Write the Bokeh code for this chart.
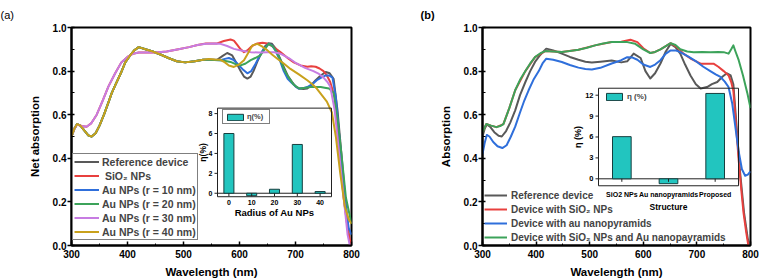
import math
from bokeh.plotting import figure
from bokeh.models import (Range1d, Legend, LegendItem, FixedTicker, Title,
                          PrintfTickFormatter)
from bokeh.layouts import row
from bokeh.embed import file_html
from bokeh.resources import INLINE
from bokeh.core.properties import value

FONT = "Liberation Sans"

# ---------------- axis ticks ----------------
X_TICKS = [300, 400, 500, 600, 700, 800]
X_MINOR = [350, 450, 550, 650, 750]
Y_TICKS = [0.0, 0.2, 0.4, 0.6, 0.8, 1.0]
Y_MINOR = [0.1, 0.3, 0.5, 0.7, 0.9]

# ---------------- panel (a) spectra ----------------
A_EARLY_REF_WL = [300, 305, 310, 316, 322, 330, 336, 343, 350, 358, 365, 372, 379, 388, 396,
                  404, 412, 420, 432, 445, 460, 473, 488, 503, 520, 535]
A_EARLY_REF = [0.50, 0.535, 0.557, 0.55, 0.53, 0.505, 0.50, 0.515, 0.55, 0.60, 0.65, 0.70, 0.74,
               0.79, 0.84, 0.87, 0.895, 0.91, 0.90, 0.89, 0.875, 0.86, 0.845, 0.84, 0.845, 0.852]
A_EARLY_SIO2_WL = [300, 305, 310, 318, 327, 335, 345, 355, 366, 378, 389, 400, 410, 420, 435,
                   450, 470, 491, 510, 525]
A_EARLY_SIO2 = [0.50, 0.535, 0.555, 0.548, 0.545, 0.56, 0.60, 0.66, 0.73, 0.79, 0.84, 0.865,
                0.88, 0.885, 0.885, 0.885, 0.89, 0.90, 0.91, 0.92]

A_REF_WL = [545, 560, 570, 578, 587, 595, 602, 608, 614, 620, 625, 632, 640, 646, 652, 658, 664,
            672, 679, 686, 694, 700, 706, 714, 721, 728, 736, 745, 754, 761, 768, 775, 782, 790,
            796, 800]
A_REF = [0.852, 0.852, 0.87, 0.883, 0.872, 0.835, 0.80, 0.775, 0.766, 0.775, 0.80, 0.845, 0.887,
         0.915, 0.928, 0.925, 0.905, 0.86, 0.819, 0.78, 0.75, 0.73, 0.72, 0.718, 0.72, 0.735,
         0.758, 0.78, 0.796, 0.79, 0.765, 0.62, 0.42, 0.18, 0.03, 0.0]

A_SIO2_WL = [540, 560, 572, 584, 590, 596, 602, 608, 614, 620, 626, 632, 641, 650, 661, 673, 685,
             697, 709, 721, 728, 736, 743, 750, 756, 762, 770, 778, 786, 794, 800]
A_SIO2 = [0.927, 0.927, 0.938, 0.945, 0.94, 0.92, 0.90, 0.887, 0.895, 0.91, 0.92, 0.927, 0.93,
          0.927, 0.91, 0.887, 0.862, 0.84, 0.826, 0.82, 0.822, 0.82, 0.812, 0.80, 0.78, 0.75,
          0.68, 0.45, 0.22, 0.06, 0.0]

A_AU10_WL = [545, 566, 574, 581, 589, 596, 605, 614, 621, 629, 636, 643, 652, 658, 664, 672, 679,
             686, 694, 700, 706, 714, 721, 730, 738, 746, 754, 760, 766, 772, 780, 788, 795, 800]
A_AU10 = [0.852, 0.85, 0.856, 0.86, 0.852, 0.835, 0.81, 0.79, 0.80, 0.835, 0.87, 0.90, 0.925,
          0.918, 0.895, 0.85, 0.80, 0.765, 0.744, 0.73, 0.72, 0.722, 0.727, 0.74, 0.758, 0.77,
          0.78, 0.78, 0.77, 0.68, 0.45, 0.22, 0.08, 0.05]

A_AU20_WL = [545, 566, 575, 584, 593, 602, 611, 620, 628, 637, 645, 652, 659, 666, 674, 681, 688,
             696, 702, 708, 718, 727, 736, 745, 752, 760, 768, 775, 782, 790, 800]
A_AU20 = [0.852, 0.85, 0.846, 0.842, 0.832, 0.826, 0.835, 0.85, 0.86, 0.872, 0.90, 0.925, 0.915,
          0.89, 0.845, 0.80, 0.77, 0.74, 0.728, 0.72, 0.724, 0.727, 0.727, 0.727, 0.724, 0.72,
          0.70, 0.58, 0.42, 0.22, 0.10]

A_AU30_WL = [540, 555, 566, 578, 590, 605, 620, 635, 650, 662, 673, 688, 702, 717, 732, 742, 750,
             757, 762, 770, 778, 786, 793, 797]
A_AU30 = [0.925, 0.927, 0.925, 0.915, 0.902, 0.893, 0.887, 0.885, 0.887, 0.886, 0.88, 0.86,
          0.835, 0.815, 0.80, 0.787, 0.77, 0.75, 0.73, 0.62, 0.42, 0.22, 0.05, 0.0]

A_AU40_WL = [545, 556, 566, 574, 581, 590, 599, 608, 616, 623, 632, 641, 650, 658, 667, 679, 691,
             706, 721, 730, 738, 747, 756, 765, 772, 780, 788, 795, 800]
A_AU40 = [0.855, 0.853, 0.852, 0.84, 0.826, 0.819, 0.83, 0.85, 0.885, 0.918, 0.925, 0.912, 0.895,
          0.876, 0.858, 0.835, 0.81, 0.785, 0.758, 0.74, 0.72, 0.69, 0.66, 0.61, 0.50, 0.33,
          0.18, 0.12, 0.10]

A_LABELS = ["Reference device", " SiO\u2082 NPs", "Au NPs (r = 10 nm)", "Au NPs (r = 20 nm)",
            "Au NPs (r = 30 nm)", "Au NPs (r = 40 nm)"]

# ---------------- panel (a) inset ----------------
RADIUS = [0, 10, 20, 30, 40]
RADIUS_LABELS = ["0", "10", "20", "30", "40"]
ETA_A = [6.0, -0.25, 0.4, 4.9, 0.17]
ETA_A_TICKS = [0, 2, 4, 6, 8]

# ---------------- panel (b) spectra ----------------
B_REF_WL = [300, 304, 308, 314, 322, 330, 336, 344, 352, 361, 370, 380, 389, 398, 408, 419, 432,
            448, 463, 479, 492, 504, 520, 541, 559, 570, 582, 595, 604, 613, 622, 632, 642, 651,
            660, 669, 678, 688, 698, 707, 719, 728, 738, 748, 756, 763, 768, 774, 780, 788, 795,
            800]
B_REF = [0.50, 0.535, 0.555, 0.545, 0.52, 0.503, 0.50, 0.525, 0.565, 0.62, 0.69, 0.75, 0.80,
         0.842, 0.875, 0.903, 0.895, 0.88, 0.865, 0.852, 0.843, 0.839, 0.843, 0.849, 0.84, 0.845,
         0.88, 0.86, 0.80, 0.766, 0.79, 0.835, 0.89, 0.925, 0.91, 0.88, 0.83, 0.78, 0.74, 0.72,
         0.727, 0.74, 0.75, 0.775, 0.79, 0.78, 0.74, 0.55, 0.35, 0.15, 0.03, 0.0]

B_SIO2_WL = [300, 307, 316, 326, 339, 350, 361, 380, 398, 417, 448, 479, 510, 541, 559, 576, 589,
             600, 613, 622, 632, 642, 651, 663, 675, 690, 707, 720, 731, 740, 750, 759, 764, 768,
             773, 778, 783, 787, 792, 796]
B_SIO2 = [0.52, 0.557, 0.55, 0.543, 0.557, 0.63, 0.712, 0.80, 0.864, 0.892, 0.888, 0.898, 0.918,
          0.933, 0.935, 0.944, 0.933, 0.905, 0.883, 0.888, 0.90, 0.915, 0.928, 0.91, 0.88, 0.855,
          0.834, 0.834, 0.834, 0.82, 0.80, 0.78, 0.75, 0.71, 0.55, 0.39, 0.25, 0.15, 0.06, 0.0]

B_AU_WL = [300, 304, 308, 313, 320, 328, 337, 345, 353, 361, 370, 378, 386, 395, 405, 412, 419,
           432, 448, 463, 479, 492, 504, 520, 541, 559, 570, 580, 589, 600, 613, 622, 632, 642,
           651, 660, 669, 685, 700, 712, 725, 735, 744, 752, 759, 766, 772, 778, 784, 790, 795,
           800]
B_AU = [0.42, 0.47, 0.507, 0.50, 0.475, 0.455, 0.447, 0.46, 0.50, 0.545, 0.61, 0.665, 0.712, 0.76,
        0.80, 0.835, 0.857, 0.852, 0.842, 0.828, 0.816, 0.81, 0.807, 0.815, 0.835, 0.85, 0.864,
        0.862, 0.852, 0.83, 0.819, 0.83, 0.85, 0.88, 0.895, 0.895, 0.887, 0.865, 0.842, 0.82,
        0.80, 0.785, 0.773, 0.752, 0.727, 0.65, 0.54, 0.43, 0.35, 0.32, 0.325, 0.34]

B_BOTH_WL = [300, 307, 316, 326, 333, 339, 350, 361, 370, 380, 389, 398, 408, 417, 432, 448, 463,
             479, 495, 510, 525, 541, 559, 570, 585, 600, 613, 622, 632, 642, 651, 660, 669, 682,
             694, 710, 725, 740, 750, 759, 764, 768, 772, 778, 786, 794, 800]
B_BOTH = [0.52, 0.557, 0.55, 0.543, 0.548, 0.557, 0.63, 0.712, 0.76, 0.80, 0.835, 0.864, 0.882,
          0.892, 0.89, 0.888, 0.892, 0.898, 0.907, 0.918, 0.927, 0.933, 0.933, 0.933, 0.925, 0.90,
          0.883, 0.888, 0.90, 0.915, 0.928, 0.92, 0.90, 0.89, 0.887, 0.888, 0.887, 0.888, 0.887,
          0.88, 0.90, 0.918, 0.89, 0.85, 0.78, 0.70, 0.63]

B_LABELS = ["Reference device", "Device with SiO\u2082 NPs", "Device with au nanopyramids",
            "Device with SiO\u2082 NPs and Au nanopayramids"]

# ---------------- panel (b) inset ----------------
STRUCT = ["SiO2 NPs", "Au nanopyramids", "Proposed"]
ETA_B = [6.05, -0.7, 12.25]
ETA_B_TICKS = [0, 3, 6, 9, 12]

# ---------------- colours ----------------
GRAY = "#595959"
RED = "#e8403e"
BLUE = "#2f6fdb"
GREEN = "#3ca35a"
PURPLE = "#c77ce2"
GOLD = "#c9a11c"
BAR = "#22c5bf"
BAR_EDGE = "#173f3f"


def inset_ranges(frame_w, frame_h, box, xlim, ylim):
    """extra ranges so that xlim/ylim fill the given pixel box of the frame"""
    l, r, t, b = box
    sx = (xlim[1] - xlim[0]) / (r - l)
    sy = (ylim[1] - ylim[0]) / (b - t)
    xr = Range1d(xlim[0] - l * sx, xlim[1] + (frame_w - r) * sx)
    yr = Range1d(ylim[0] - (frame_h - b) * sy, ylim[1] + t * sy)
    return xr, yr


def style_main(p, xlabel, ylabel):
    p.outline_line_color = "black"
    p.outline_line_width = 2
    p.outline_line_alpha = 1
    p.grid.visible = False
    p.background_fill_color = "white"
    p.xaxis.ticker = FixedTicker(ticks=X_TICKS, minor_ticks=X_MINOR)
    p.yaxis.ticker = FixedTicker(ticks=Y_TICKS, minor_ticks=Y_MINOR)
    p.yaxis.formatter = PrintfTickFormatter(format="%.1f")
    p.xaxis.axis_label = xlabel
    p.yaxis.axis_label = ylabel
    for ax in (p.xaxis[0], p.yaxis[0]):
        ax.axis_line_width = 2
        ax.major_label_text_font = FONT
        ax.major_label_text_font_style = "bold"
        ax.major_label_text_font_size = "10px"
        ax.major_label_text_color = "black"
        ax.axis_label_text_font = FONT
        ax.axis_label_text_font_style = "bold"
        ax.axis_label_text_font_size = "11.5px"
        ax.axis_label_text_color = "black"
        ax.major_tick_line_width = 1.5
        ax.minor_tick_line_width = 1
    xa = p.xaxis[0]
    xa.major_tick_in = 4
    xa.major_tick_out = 0
    xa.minor_tick_in = 2
    xa.minor_tick_out = 0
    xa.major_label_standoff = 4
    xa.axis_label_standoff = 5
    ya = p.yaxis[0]
    ya.major_tick_in = 3
    ya.major_tick_out = 4
    ya.minor_tick_in = 3
    ya.minor_tick_out = 0
    ya.major_label_standoff = 1
    ya.axis_label_standoff = 9


def add_panel_label(p, text, bold, shift):
    t = Title(text=text, align="left", offset=shift, standoff=13,
              text_font=FONT, text_font_size="11px",
              text_font_style="bold" if bold else "normal", text_color="black")
    p.add_layout(t, "above")


def text_kw(size, align="center", baseline="middle", bold=True):
    return dict(text_font=value(FONT), text_font_size=value(size),
                text_font_style="bold" if bold else "normal",
                text_align=align, text_baseline=baseline, text_color="black")


def draw_inset(p, xs, tops, width, xlim, ylim, yticks, xlabels, xlabel, ylabel,
               fs_tick, fs_cat, fs_xl, fs_yl, xl_off, xlab_off, yl_off, rx, ry):
    kw = dict(x_range_name=rx, y_range_name=ry)
    p.quad(left=[xlim[0]], right=[xlim[1]], bottom=[ylim[0]], top=[ylim[1]],
           fill_color=None, line_color="#222222", line_width=1, **kw)
    p.segment(x0=[xlim[0]], y0=[0], x1=[xlim[1]], y1=[0], line_color="#222222",
              line_width=1, **kw)
    bars = p.vbar(x=xs, top=tops, bottom=0, width=width, fill_color=BAR,
                  line_color=BAR_EDGE, line_width=1, **kw)
    p.ray(x=[xlim[0]] * len(yticks), y=yticks, length=3, length_units="screen",
          angle=math.pi, line_color="#222222", line_width=1, **kw)
    p.text(x=[xlim[0]] * len(yticks), y=yticks, text=[str(t) for t in yticks],
           x_offset=-5, **text_kw(fs_tick, align="right"), **kw)
    p.ray(x=xs, y=[0] * len(xs), length=3, length_units="screen",
          angle=-math.pi / 2, line_color="#222222", line_width=1, **kw)
    p.text(x=xs, y=[ylim[0]] * len(xs), text=xlabels, y_offset=xl_off,
           **text_kw(fs_cat), **kw)
    xc = (xs[0] + xs[-1]) / 2
    p.text(x=[xc], y=[ylim[0]], text=[xlabel], y_offset=xlab_off,
           **text_kw(fs_xl), **kw)
    p.text(x=[xlim[0]], y=[(ylim[0] + ylim[1]) / 2], text=[ylabel], angle=math.pi / 2,
           x_offset=yl_off, **text_kw(fs_yl), **kw)
    return bars


# ======================= panel (a) =======================
pa = figure(width=380, height=280, output_backend="svg", toolbar_location=None,
            x_range=Range1d(300, 800), y_range=Range1d(0, 1.0),
            min_border_left=71, min_border_right=29, min_border_top=27,
            min_border_bottom=34)
style_main(pa, "Wavelength (nm)", "Net absorption")
add_panel_label(pa, "(a)", False, -71)

a_series = [
    (A_EARLY_REF_WL + A_REF_WL, A_EARLY_REF + A_REF, GRAY),
    (A_EARLY_SIO2_WL + A_SIO2_WL, A_EARLY_SIO2 + A_SIO2, RED),
    (A_EARLY_REF_WL + A_AU10_WL, A_EARLY_REF + A_AU10, BLUE),
    (A_EARLY_REF_WL + A_AU20_WL, A_EARLY_REF + A_AU20, GREEN),
    (A_EARLY_SIO2_WL + A_AU30_WL, A_EARLY_SIO2 + A_AU30, PURPLE),
    (A_EARLY_REF_WL + A_AU40_WL, A_EARLY_REF + A_AU40, GOLD),
]
a_rend = []
for xs, ys, c in a_series:
    a_rend.append(pa.line(xs, ys, line_color=c, line_width=2, line_join="round"))

xr, yr = inset_ranges(280, 219, (146, 260, 81, 170), (-5, 45), (-0.35, 8.55))
pa.extra_x_ranges = {"ia": xr}
pa.extra_y_ranges = {"ia": yr}
bars_a = draw_inset(pa, RADIUS, ETA_A, 4.4, (-5, 45), (-0.35, 8.55), ETA_A_TICKS,
                    RADIUS_LABELS, "Radius of Au NPs", "\u03b7(%)",
                    "7px", "7px", "9.5px", "8.5px", 6, 16, -15, "ia", "ia")

leg_a = Legend(items=[LegendItem(label=l, renderers=[r]) for l, r in zip(A_LABELS, a_rend)],
               location=(1, 5), glyph_width=25, glyph_height=13, label_height=13,
               label_standoff=3, spacing=1, padding=1, margin=0,
               label_text_font=FONT, label_text_font_style="bold",
               label_text_font_size="10.5px", border_line_color="black",
               border_line_width=1, background_fill_color="white", background_fill_alpha=1)
pa.add_layout(leg_a)
leg_ai = Legend(items=[LegendItem(label="\u03b7(%)", renderers=[bars_a])],
                location=(151, 121), glyph_width=20, glyph_height=8, label_height=8,
                label_standoff=2, spacing=0, padding=2, margin=0,
                label_text_font=FONT, label_text_font_style="bold",
                label_text_font_size="7.5px", border_line_color="black",
                border_line_width=1, background_fill_color="white", background_fill_alpha=1)
pa.add_layout(leg_ai)

# ======================= panel (b) =======================
pb = figure(width=379, height=280, output_backend="svg", toolbar_location=None,
            x_range=Range1d(300, 800), y_range=Range1d(0, 1.0),
            min_border_left=102, min_border_right=9, min_border_top=27,
            min_border_bottom=34)
style_main(pb, "Wavelength (nm)", "Absorption")
add_panel_label(pb, "(b)", True, -62)

b_series = [(B_REF_WL, B_REF, GRAY), (B_SIO2_WL, B_SIO2, RED), (B_AU_WL, B_AU, BLUE),
            (B_BOTH_WL, B_BOTH, GREEN)]
b_rend = []
for xs, ys, c in b_series:
    b_rend.append(pb.line(xs, ys, line_color=c, line_width=2, line_join="round"))

sidx = list(range(len(STRUCT)))
xr, yr = inset_ranges(268, 219, (116, 256, 61, 159), (-0.5, 2.5), (-1, 13))
pb.extra_x_ranges = {"ib": xr}
pb.extra_y_ranges = {"ib": yr}
bars_b = draw_inset(pb, sidx, ETA_B, 0.4, (-0.5, 2.5), (-1, 13), ETA_B_TICKS,
                    STRUCT, "Structure", "\u03b7 (%)",
                    "7.5px", "7px", "8.5px", "9px", 9, 21, -21, "ib", "ib")

leg_b = Legend(items=[LegendItem(label=l, renderers=[r]) for l, r in zip(B_LABELS, b_rend)],
               location=(2, 1), glyph_width=23, glyph_height=14, label_height=14,
               label_standoff=4, spacing=0, padding=0, margin=0,
               label_text_font=FONT, label_text_font_style="bold",
               label_text_font_size="10px", border_line_alpha=0,
               background_fill_alpha=0)
pb.add_layout(leg_b)
leg_bi = Legend(items=[LegendItem(label="\u03b7 (%)", renderers=[bars_b])],
                location=(121, 143), glyph_width=20, glyph_height=9, label_height=9,
                label_standoff=3, spacing=0, padding=1, margin=0,
                label_text_font=FONT, label_text_font_style="bold",
                label_text_font_size="8px", border_line_alpha=0, background_fill_alpha=0)
pb.add_layout(leg_bi)

layout = row(pa, pb, spacing=0)
open("out.html", "w").write(file_html(layout, INLINE))
